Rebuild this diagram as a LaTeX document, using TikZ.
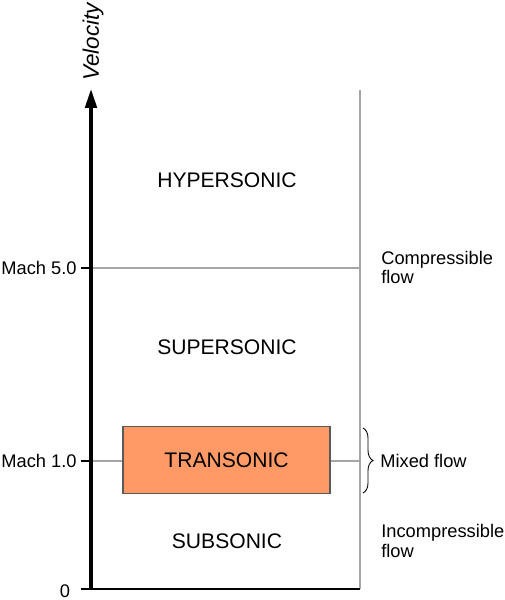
\documentclass[tikz,border=0pt]{standalone}
\usepackage{fontspec}
\setmainfont{Liberation Sans}
\usetikzlibrary{arrows.meta, positioning, decorations.pathreplacing}
\definecolor{machgrey}{HTML}{A6A6A6}
\definecolor{machorange}{HTML}{FF9966}
\definecolor{machedge}{HTML}{5A5A5A}
\tikzset{
  >={Triangle[length=4mm, width=2.2mm]},
  regime/.style={font=\fontsize{12}{14}\selectfont, inner sep=0pt},
  lbl/.style={font=\fontsize{10.4}{11}\selectfont, align=left, inner sep=0pt},
  guide/.style={draw=machgrey, line width=1.1pt},
  axis/.style={->, draw=black, line width=2.6pt},
  tickmark/.style={draw=black, line width=1.2pt},
  transbox/.style={rectangle, draw=machedge, line width=0.6pt, fill=machorange,
                   minimum width=41.4mm, minimum height=13.4mm, font=\fontsize{12}{14}\selectfont},
}
\begin{document}
\begin{tikzpicture}[x=0.2mm, y=-0.2mm]
  \useasboundingbox (0,0) rectangle (505,600);
  % axis end points
  \coordinate (origin) at (91,589);
  \coordinate (top) at (91,88);
  \coordinate (rtop) at (360,90);
  \coordinate (rbot) at (360,589);
  \coordinate (m5) at (91,268);
  \coordinate (m5r) at (360,268);
  \coordinate (m1) at (91,461);
  \coordinate (m1r) at (360,461);
  % grey guide lines
  \draw[guide] (rtop) -- (rbot);
  \draw[guide] (m5) -- (m5r);
  \draw[guide] (m1) -- (m1r);
  % regimes
  \node[regime] (hyper) at (227,180) {HYPERSONIC};
  \node[regime] (super) at (227,347) {SUPERSONIC};
  \node[transbox] (trans) at (226.5,460) {TRANSONIC};
  \node[regime] (sub) at (227,541) {SUBSONIC};
  % velocity axis
  \draw[tickmark] (81,589) -- (rbot);
  \draw[axis] (origin) -- (top);
  \draw[tickmark] (81,268) -- (m5);
  \draw[tickmark] (81,461) -- (m1);
  \node[lbl, anchor=east] (l5) at (77,268) {Mach 5.0};
  \node[lbl, anchor=east] (l1) at (77,461) {Mach 1.0};
  \node[lbl] (l0) at (65,591.5) {0};
  \node[regime, rotate=90, font=\fontsize{12.8}{14}\selectfont\itshape] (vel) at (93,42) {Velocity};
  % flow types
  \node[lbl, anchor=west] (comp) at (381,267.5) {Compressible\\flow};
  \coordinate (bt) at (363,428);
  \coordinate (bb) at (363,493);
  \draw[decorate, decoration={brace, amplitude=2mm}, line width=0.5pt] (bt) -- (bb);
  \node[lbl, anchor=west] (mixed) at (380,461) {Mixed flow};
  \node[lbl, anchor=west] (incomp) at (381,541) {Incompressible\\flow};
\end{tikzpicture}
\end{document}
